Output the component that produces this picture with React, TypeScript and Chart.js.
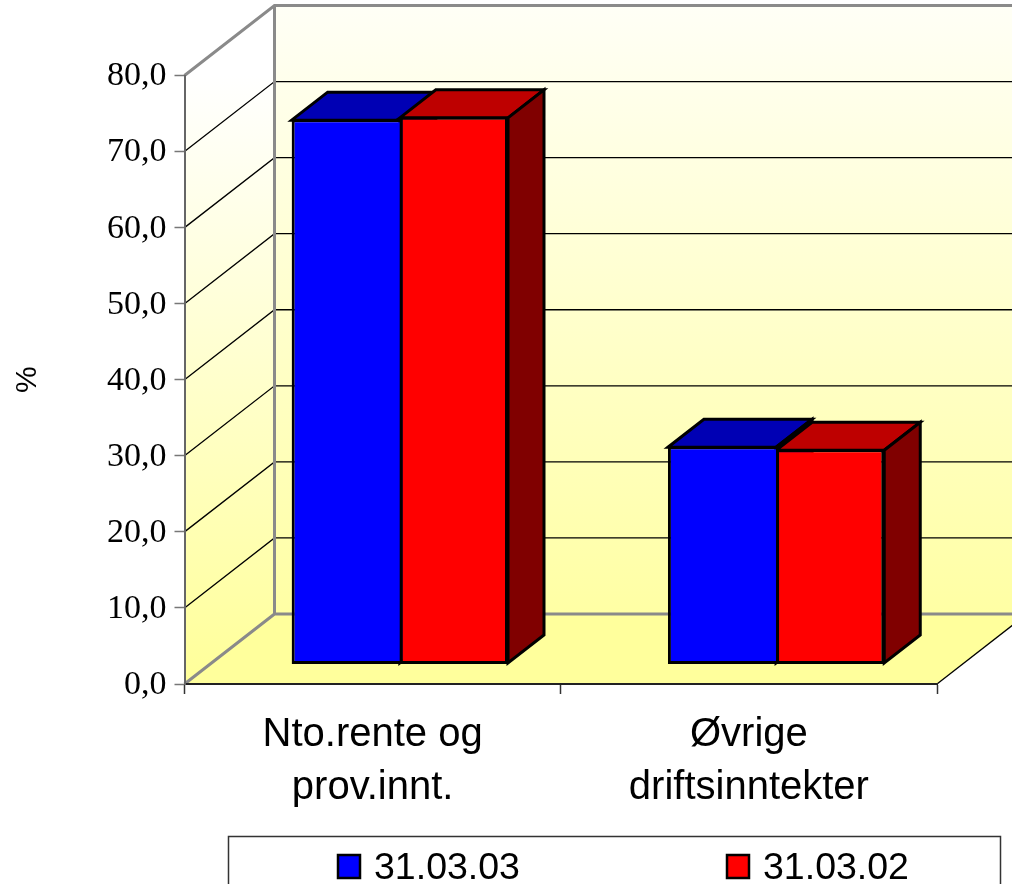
import React, { useEffect, useRef } from "react";
import { Chart, registerables } from "chart.js";

Chart.register(...registerables);

const categories = [["Nto.rente og", "prov.innt."], ["Øvrige", "driftsinntekter"]];
const series0331 = [71.7, 28.7];
const series0302 = [72.0, 28.3];
const seriesNames = ["31.03.03", "31.03.02"];
const seriesColors = ["#0000FF", "#FF0000"];
const topColors = ["#0000B4", "#BE0000"];
const sideColors = ["#000080", "#800000"];

const WALL_DX = 90;
const WALL_DY = 70;
const BAR_OFFSET_DX = 27.2;
const BAR_OFFSET_DY = 19.5;
const BAR_DEPTH_DX = 36;
const BAR_DEPTH_DY = 28;
const WALL_GRAY = "#8A8A8A";

const poly = (ctx: CanvasRenderingContext2D, pts: number[][]) => {
  ctx.beginPath();
  pts.forEach((p, i) => (i ? ctx.lineTo(p[0], p[1]) : ctx.moveTo(p[0], p[1])));
  ctx.closePath();
};

const wallsPlugin = {
  id: "walls",
  beforeDraw(chart: any) {
    const { ctx, chartArea: a, scales } = chart;
    const { left, right, top, bottom } = a;
    const backL = left + WALL_DX;
    const backR = right + WALL_DX;
    const backT = top - WALL_DY;
    const backB = bottom - WALL_DY;
    ctx.save();
    ctx.fillStyle = "#FFFFFF";
    ctx.fillRect(0, 0, chart.width, chart.height);

    const back = ctx.createLinearGradient(0, backT, 0, backB);
    back.addColorStop(0, "#FFFFF6");
    back.addColorStop(1, "#FFFFA4");
    ctx.fillStyle = back;
    ctx.fillRect(backL, backT, backR - backL, backB - backT);

    const side = ctx.createLinearGradient(0, top, 0, bottom);
    side.addColorStop(0, "#FFFFFF");
    side.addColorStop(1, "#FFFF99");
    ctx.fillStyle = side;
    poly(ctx, [[left, top], [backL, backT], [backL, backB], [left, bottom]]);
    ctx.fill();

    ctx.fillStyle = "#FFFF9C";
    poly(ctx, [[left, bottom], [backL, backB], [backR, backB], [right, bottom]]);
    ctx.fill();

    ctx.strokeStyle = "#000000";
    ctx.lineWidth = 1.3;
    scales.y.ticks.forEach((t: any) => {
      if (t.value === 0 || t.value === scales.y.max) return;
      const y = scales.y.getPixelForValue(t.value);
      ctx.beginPath();
      ctx.moveTo(left, y);
      ctx.lineTo(backL, y - WALL_DY);
      ctx.lineTo(backR, y - WALL_DY);
      ctx.stroke();
    });

    ctx.beginPath();
    ctx.moveTo(right, bottom);
    ctx.lineTo(backR, backB);
    ctx.stroke();

    ctx.strokeStyle = WALL_GRAY;
    ctx.lineWidth = 3;
    ctx.beginPath();
    ctx.moveTo(left, top);
    ctx.lineTo(backL, backT);
    ctx.lineTo(backR, backT);
    ctx.moveTo(backL, backT);
    ctx.lineTo(backL, backB);
    ctx.lineTo(backR, backB);
    ctx.moveTo(left, bottom);
    ctx.lineTo(backL, backB);
    ctx.stroke();
    ctx.restore();
  },
  beforeDatasetsDraw(chart: any) {
    const { ctx } = chart;
    ctx.save();
    ctx.translate(BAR_OFFSET_DX, -BAR_OFFSET_DY);
    ctx.strokeStyle = "#000000";
    ctx.lineWidth = 3;
    ctx.lineJoin = "miter";
    chart.data.datasets.forEach((_: any, i: number) => {
      chart.getDatasetMeta(i).data.forEach((bar: any) => {
        const l = bar.x - bar.width / 2;
        const r = bar.x + bar.width / 2;
        const y = bar.y + 1;
        const base = bar.base - 1;
        ctx.fillStyle = topColors[i];
        poly(ctx, [[l, y], [l + BAR_DEPTH_DX, y - BAR_DEPTH_DY], [r + BAR_DEPTH_DX, y - BAR_DEPTH_DY], [r, y]]);
        ctx.fill();
        ctx.stroke();
        ctx.fillStyle = sideColors[i];
        poly(ctx, [[r, y], [r + BAR_DEPTH_DX, y - BAR_DEPTH_DY], [r + BAR_DEPTH_DX, base - BAR_DEPTH_DY], [r, base]]);
        ctx.fill();
        ctx.stroke();
      });
    });
  },
  afterDatasetsDraw(chart: any) {
    chart.ctx.restore();
  },
  afterDraw(chart: any) {
    const { ctx } = chart;
    ctx.save();
    ctx.strokeStyle = "#333333";
    ctx.lineWidth = 1.5;
    ctx.strokeRect(228.5, 836.5, 772, 60);
    ctx.font = "37.5px 'Liberation Sans'";
    ctx.textBaseline = "alphabetic";
    ctx.textAlign = "left";
    const swatchX = [338, 727];
    chart.data.datasets.forEach((ds: any, i: number) => {
      ctx.fillStyle = ds.backgroundColor;
      ctx.strokeStyle = "#000000";
      ctx.lineWidth = 2.5;
      ctx.fillRect(swatchX[i], 855, 22, 23);
      ctx.strokeRect(swatchX[i], 855, 22, 23);
      ctx.fillStyle = "#000000";
      ctx.fillText(ds.label, swatchX[i] + 36, 879);
    });
    ctx.restore();
  },
};

export default function App() {
  const ref = useRef<HTMLCanvasElement | null>(null);
  useEffect(() => {
    if (!ref.current) return;
    const chart = new Chart(ref.current, {
      type: "bar",
      data: {
        labels: categories as any,
        datasets: [
          { label: seriesNames[0], data: series0331, backgroundColor: seriesColors[0], borderColor: "#000000", borderWidth: { top: 3, left: 3, bottom: 3, right: 0 }, borderSkipped: false, barPercentage: 1, categoryPercentage: 0.575, clip: false as any },
          { label: seriesNames[1], data: series0302, backgroundColor: seriesColors[1], borderColor: "#000000", borderWidth: 3, borderSkipped: false, barPercentage: 1, categoryPercentage: 0.575, clip: false as any },
        ],
      },
      options: {
        responsive: false,
        animation: false,
        layout: { padding: { top: 75.5, right: 75, left: 0, bottom: 0 } },
        plugins: { legend: { display: false }, tooltip: { enabled: false }, title: { display: false } },
        scales: {
          x: {
            afterFit: (s: any) => { s.height = 200; },
            grid: { offset: true, drawOnChartArea: false, tickLength: 10, color: "#333333", tickWidth: 1.5 },
            border: { color: "#222222", width: 2 },
            ticks: {
              color: "#000000",
              padding: 14,
              maxRotation: 0,
              autoSkip: false,
              font: { family: "'Liberation Sans'", size: 40, lineHeight: 1.34 },
            },
          },
          y: {
            min: 0,
            max: 80,
            afterFit: (s: any) => { s.width = 184.5; },
            grid: { drawOnChartArea: false, tickLength: 10, color: "#777777", tickWidth: 1.5 },
            border: { color: "#666666", width: 2 },
            title: {
              display: true,
              text: "%",
              color: "#000000",
              padding: { top: 10, bottom: 0 },
              font: { family: "'Liberation Sans'", size: 30, lineHeight: 1.2 },
            },
            ticks: {
              stepSize: 10,
              color: "#000000",
              padding: 8,
              labelOffset: 1,
              callback: (v: any) => Number(v).toFixed(1).replace(".", ","),
              font: { family: "'Liberation Serif'", size: 34 },
            },
          },
        },
      },
      plugins: [wallsPlugin],
    } as any);
    return () => chart.destroy();
  }, []);
  return (
    <canvas
      ref={ref}
      width={1012}
      height={884}
      style={{ position: "fixed", left: 0, top: 0, width: 1012, height: 884, display: "block" }}
    />
  );
}
